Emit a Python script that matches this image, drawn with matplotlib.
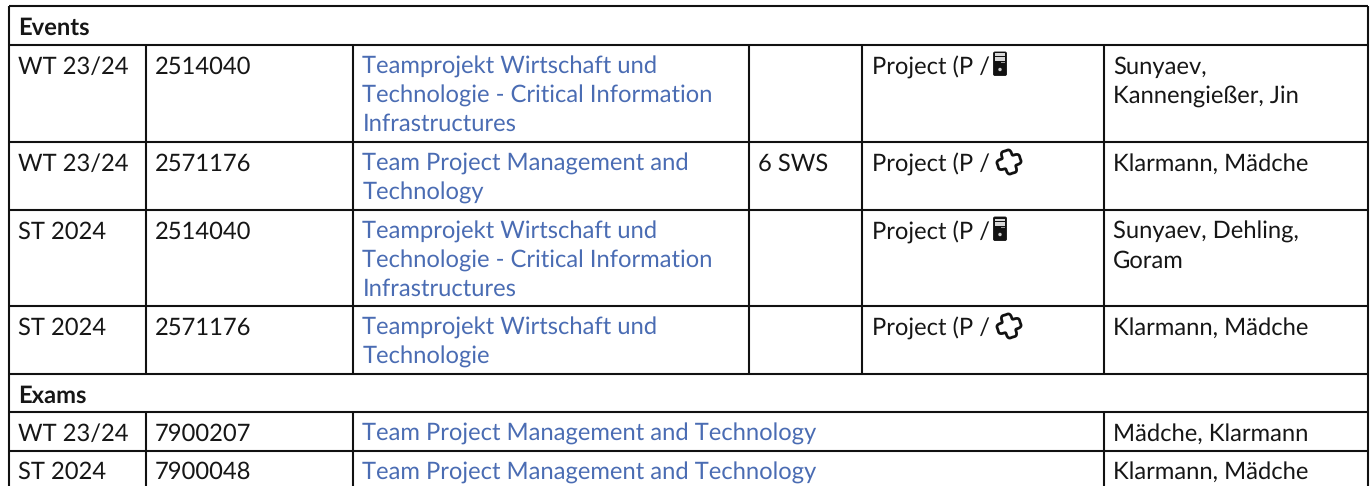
# -*- coding: utf-8 -*-
"""Course table with events and exams"""

import matplotlib

matplotlib.use("agg")

import matplotlib.pyplot as plt
import numpy as np
from matplotlib.patches import Circle, Polygon, Rectangle, FancyBboxPatch

plt.rcParams["text.hinting"] = "no_hinting"
plt.rcParams["text.hinting_factor"] = 8

WIDTH, HEIGHT = 1372, 486
BLUE = "#4a6cb3"
TEXT = "#161616"
FONT_SIZE = 17.1
LINE_PITCH = 28.8

column_edges = [9.3, 145.7, 352.7, 748.7, 861.7, 1104, 1367.7]
row_edges = [6.5, 45, 142, 210, 306, 374, 412, 450.5, 490]

terms = ["WT 23/24", "WT 23/24", "ST 2024", "ST 2024"]
numbers = ["2514040", "2571176", "2514040", "2571176"]
titles = [
    ["Teamprojekt Wirtschaft und", "Technologie - Critical Information", "Infrastructures"],
    ["Team Project Management and", "Technology"],
    ["Teamprojekt Wirtschaft und", "Technologie - Critical Information", "Infrastructures"],
    ["Teamprojekt Wirtschaft und", "Technologie"],
]
hours = ["", "6 SWS", "", ""]
kinds = ["Project (P /", "Project (P /", "Project (P /", "Project (P /"]
icons = ["server", "puzzle", "server", "puzzle"]
lecturers = [
    ["Sunyaev,", "Kannengießer, Jin"],
    ["Klarmann, Mädche"],
    ["Sunyaev, Dehling,", "Goram"],
    ["Klarmann, Mädche"],
]

exam_terms = ["WT 23/24", "ST 2024"]
exam_numbers = ["7900207", "7900048"]
exam_titles = ["Team Project Management and Technology", "Team Project Management and Technology"]
exam_lecturers = ["Mädche, Klarmann", "Klarmann, Mädche"]


def put_text(ax, x, y, s, color=TEXT, weight="normal", size=FONT_SIZE):
    ax.text(x, y, s, color=color, fontsize=size, fontweight=weight, family="Lato", va="baseline", ha="left")


def put_lines(ax, x, top, lines, color=TEXT, size=FONT_SIZE):
    for i, line in enumerate(lines):
        put_text(ax, x, top + 28.7 + i * LINE_PITCH, line, color, size=size)


def draw_server(ax, x, y):
    ax.add_patch(FancyBboxPatch((x + 0.5, y + 0.5), 13, 23.5, boxstyle="round,pad=0,rounding_size=1.5", fc="#111111", ec="#111111", lw=0.6))
    ax.add_patch(Rectangle((x + 2, y + 2), 10, 2.2, fc="#d8d8d8", ec="none"))
    ax.add_patch(Rectangle((x + 2, y + 5.5), 10, 3.6, fc="#d8d8d8", ec="none"))
    ax.add_patch(Rectangle((x + 8, y + 10.4), 4, 0.9, fc="#999999", ec="none"))
    ax.add_patch(Circle((x + 7, y + 18), 1.7, fc="#cccccc", ec="none"))


def draw_puzzle(ax, cx, cy):
    # puzzle piece icon: a chunky four lobed outline, turned a little
    angle = np.linspace(0, 2 * np.pi, 160, endpoint=False)
    radius = 10.6 + 2.0 * np.cos(4 * angle) - 0.9 * np.cos(8 * angle)
    turned = angle - np.deg2rad(18)
    outline = np.column_stack([cx + radius * np.cos(turned), cy + radius * np.sin(turned)])
    ax.add_patch(Polygon(outline, closed=True, fc="white", ec="#111111", lw=2.0))


def main():
    fig = plt.figure(figsize=(WIDTH / 100, HEIGHT / 100), dpi=100)
    ax = fig.add_axes([0, 0, 1, 1])
    ax.set_xlim(0, WIDTH)
    ax.set_ylim(HEIGHT, 0)
    ax.axis("off")

    line_style = {"color": "#111111", "lw": 1.5, "solid_capstyle": "butt"}
    left, right = column_edges[0], column_edges[-1]
    for y in row_edges[:-1]:
        ax.plot([left, right], [y, y], **line_style)
    ax.plot([left, left], [row_edges[0], HEIGHT], **line_style)
    ax.plot([right, right], [row_edges[0], HEIGHT], **line_style)

    # vertical rules, events part
    for x in column_edges[1:-1]:
        ax.plot([x, x], [row_edges[1], row_edges[5]], **line_style)
    # vertical rules, exams part
    for x in [column_edges[1], column_edges[2], column_edges[5]]:
        ax.plot([x, x], [row_edges[6], HEIGHT], **line_style)

    put_text(ax, 18, 35, "Events", weight="bold")
    put_text(ax, 18, 403, "Exams", weight="bold")

    for i in range(len(terms)):
        top = row_edges[i + 1]
        put_lines(ax, 18.3, top, [terms[i]])
        put_lines(ax, 155, top, [numbers[i]])
        put_lines(ax, 362.5, top, titles[i], BLUE)
        put_lines(ax, 758, top, [hours[i]])
        put_lines(ax, 871.7, top, [kinds[i]])
        if icons[i] == "server":
            draw_server(ax, 993, top + 6.5)
        else:
            draw_puzzle(ax, 1009, top + 20)
        put_lines(ax, 1113, top, lecturers[i])

    for i in range(len(exam_terms)):
        top = row_edges[i + 6]
        put_lines(ax, 18.3, top, [exam_terms[i]])
        put_lines(ax, 155, top, [exam_numbers[i]])
        put_lines(ax, 362.5, top, [exam_titles[i]], BLUE)
        put_lines(ax, 1113, top, [exam_lecturers[i]])

    fig.savefig("out.png", dpi=100, facecolor="white")


main()
